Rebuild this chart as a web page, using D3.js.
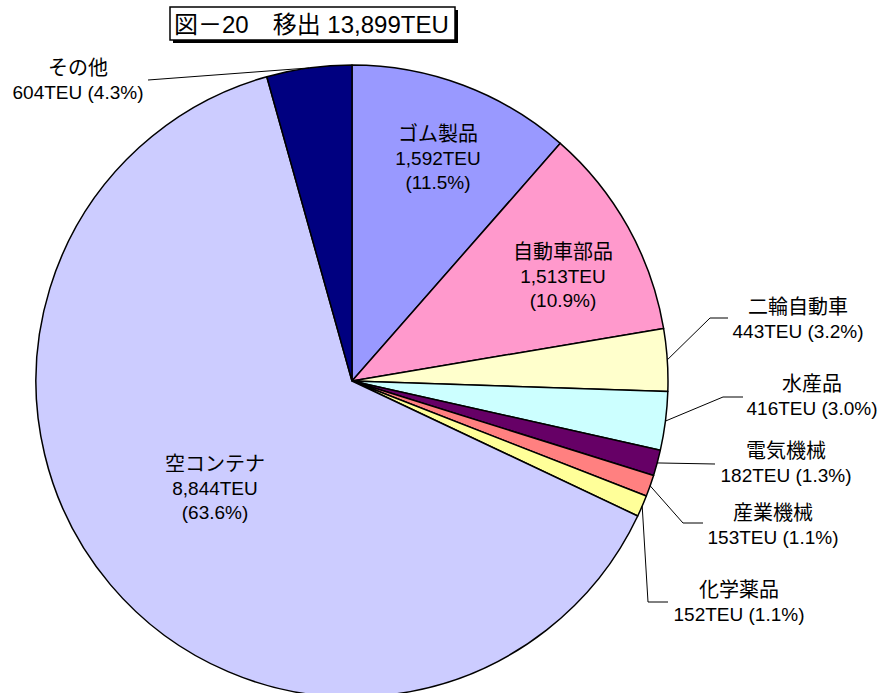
<!DOCTYPE html>
<html>
<head>
<meta charset="utf-8">
<script src="https://cdn.jsdelivr.net/npm/d3@7"></script>
<style>
  body { margin: 0; background: #fff; }
  text { font-family: "Liberation Sans", "Noto Sans CJK JP", sans-serif; fill: #000; }
</style>
</head>
<body>
<div id="chart"></div>
<script>
// Data
const titleText = "図－20\u3000移出 13,899TEU";
const categories = ["ゴム製品", "自動車部品", "二輪自動車", "水産品", "電気機械", "産業機械", "化学薬品", "空コンテナ", "その他"];
const values = [1592, 1513, 443, 416, 182, 153, 152, 8844, 604];
const colors = ["#9999FF", "#FF99CC", "#FFFFCC", "#CCFFFF", "#660066", "#FF8080", "#FFFF99", "#CCCCFF", "#000080"];

// Label layout (x = text centre, y = first baseline; knee/end for leader lines)
const labelLayout = [
    { x: 438, y: 141, inside: true },
    { x: 563, y: 259, inside: true },
    { x: 798, y: 314, knee: [710, 318], end: [728, 318] },
    { x: 812, y: 391, knee: [723, 397], end: [743, 397] },
    { x: 786, y: 458, knee: [715, 464], end: [715, 464] },
    { x: 773, y: 520, knee: [683, 523], end: [703, 523] },
    { x: 739, y: 597, knee: [648, 602], end: [668, 602] },
    { x: 215, y: 471, inside: true },
    { x: 78, y: 75, knee: [148, 80], end: [148, 80] }
];

const width = 882, height = 693;
const cx = 352, cy = 381, radius = 316;

const svg = d3.select("#chart").append("svg")
    .attr("width", width)
    .attr("height", height);

// Title box with shadow
const tg = svg.append("g");
tg.append("rect").attr("x", 173).attr("y", 10).attr("width", 285).attr("height", 33).attr("fill", "#000");
tg.append("rect").attr("x", 170).attr("y", 7).attr("width", 285).attr("height", 33)
    .attr("fill", "#fff").attr("stroke", "#000").attr("stroke-width", 1.5);
tg.append("text").attr("x", 174).attr("y", 33).style("font-size", "24px").text(titleText);

// Pie
const total = d3.sum(values);
const data = categories.map((c, i) => ({ name: c, value: values[i], color: colors[i], layout: labelLayout[i] }));

const pie = d3.pie().sort(null).value(d => d.value);
const arcs = pie(data);
const arc = d3.arc().innerRadius(0).outerRadius(radius);
const edgeArc = d3.arc().innerRadius(radius).outerRadius(radius);

const g = svg.append("g").attr("transform", `translate(${cx},${cy})`);

g.selectAll("path.slice")
    .data(arcs)
    .enter().append("path")
    .attr("class", "slice")
    .attr("d", arc)
    .attr("fill", d => d.data.color)
    .attr("stroke", "#000")
    .attr("stroke-width", 1.5)
    .attr("stroke-linejoin", "round");

// Leader lines
const outside = arcs.filter(d => !d.data.layout.inside);
svg.selectAll("polyline.leader")
    .data(outside)
    .enter().append("polyline")
    .attr("class", "leader")
    .attr("fill", "none")
    .attr("stroke", "#000")
    .attr("stroke-width", 1)
    .attr("points", d => {
        const p = edgeArc.centroid(d);
        const L = d.data.layout;
        return [[p[0] + cx, p[1] + cy], L.knee, L.end].map(q => q.join(",")).join(" ");
    });

// Labels
const fmtVal = d3.format(",");
const fmtPct = d3.format(".1%");
arcs.forEach(d => {
    const L = d.data.layout;
    const valText = fmtVal(d.data.value) + "TEU";
    const pctText = "(" + fmtPct(d.data.value / total) + ")";
    const lines = L.inside ? [d.data.name, valText, pctText] : [d.data.name, valText + " " + pctText];
    const t = svg.append("text")
        .attr("text-anchor", "middle")
        .attr("x", L.x)
        .attr("y", L.y);
    lines.forEach((s, i) => {
        t.append("tspan")
            .attr("x", L.x)
            .attr("dy", i === 0 ? 0 : 24)
            .style("font-size", i === 0 ? "20px" : "19px")
            .text(s);
    });
});
</script>
</body>
</html>
